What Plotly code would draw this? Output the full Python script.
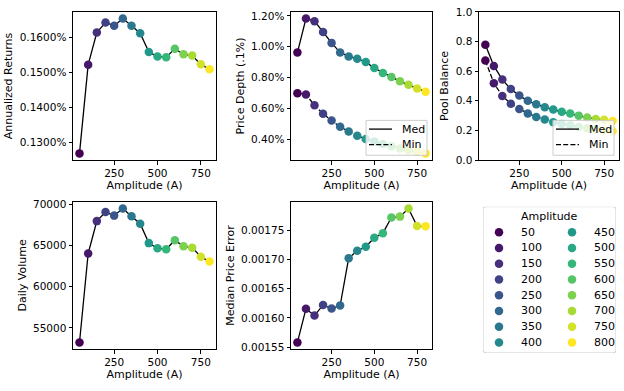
import plotly.graph_objects as go
from plotly.colors import sample_colorscale

# ---------------- data ----------------
amplitude = [50, 100, 150, 200, 250, 300, 350, 400, 450, 500, 550, 600, 650, 700, 750, 800]
annualized_returns = [0.0012684, 0.0015213, 0.0016130, 0.0016418, 0.0016325, 0.0016529, 0.0016325, 0.0016111,
                      0.0015576, 0.0015446, 0.0015427, 0.0015669, 0.0015511, 0.0015474, 0.0015223, 0.0015084]
depth_med = [0.00962, 0.01183, 0.01166, 0.01095, 0.01025, 0.00962, 0.00937, 0.00922,
             0.00901, 0.00861, 0.00830, 0.00804, 0.00775, 0.00753, 0.00728, 0.00707]
depth_min = [0.00698, 0.00690, 0.00619, 0.00564, 0.00520, 0.00480, 0.00449, 0.00421,
             0.00400, 0.00385, 0.00368, 0.00353, 0.00339, 0.00328, 0.00317, 0.00307]
pool_med = [0.778, 0.635, 0.543, 0.479, 0.435, 0.400, 0.376, 0.356,
            0.341, 0.326, 0.315, 0.300, 0.287, 0.278, 0.272, 0.263]
pool_min = [0.671, 0.519, 0.433, 0.380, 0.344, 0.315, 0.291, 0.274,
            0.256, 0.244, 0.235, 0.224, 0.215, 0.209, 0.200, 0.196]
daily_volume = [53228, 64055, 67992, 69094, 68661, 69528, 68583, 67677,
                65315, 64685, 64567, 65669, 64921, 64764, 63661, 63071]
price_error = [0.0015580, 0.0016156, 0.0016039, 0.0016222, 0.0016161, 0.0016211, 0.0017022, 0.0017150,
               0.0017217, 0.0017372, 0.0017450, 0.0017717, 0.0017733, 0.0017872, 0.0017572, 0.0017567]
series_names = ["Med", "Min"]
x_ticks = [250, 500, 750]

# ---------------- layout helpers ----------------
W, H = 624, 391
FONT = "DejaVu Sans"
def fx(p): return p / W
def fy(p): return 1 - p / H

cols = [(73, 216), (291, 432), (479, 619)]
rows = [(6, 159), (202, 354)]

def pad(vals_list, lo=None, hi=None):
    v = [x for vals in vals_list for x in vals]
    a, b = min(v), max(v)
    s = b - a
    return [a - 0.05 * s if lo is None else lo, b + 0.05 * s if hi is None else hi]

cmin, cmax = min(amplitude), max(amplitude)
marker = dict(color=amplitude, colorscale="Viridis", cmin=cmin, cmax=cmax, size=8.5, line=dict(width=0))
LW = 1.3
DASH = "5px,2.2px"

fig = go.Figure()

def add_series(xa, ya, y, dash="solid"):
    fig.add_trace(go.Scatter(x=amplitude, y=y, mode="lines+markers", xaxis=xa, yaxis=ya,
                             line=dict(color="black", width=LW, dash=dash), marker=marker,
                             showlegend=False, hoverinfo="skip"))

add_series("x", "y", annualized_returns)
add_series("x2", "y2", depth_med)
add_series("x2", "y2", depth_min, dash=DASH)
add_series("x3", "y3", pool_med)
add_series("x3", "y3", pool_min, dash=DASH)
add_series("x4", "y4", daily_volume)
add_series("x5", "y5", price_error)

xr = pad([amplitude])
axis_common = dict(showline=True, linecolor="black", linewidth=1, mirror=True, ticks="outside",
                   ticklen=3.5, tickwidth=1, tickcolor="black", showgrid=False, zeroline=False,
                   tickfont=dict(family=FONT, size=10.5, color="black"))

def xaxis(col, row, anchor):
    d = dict(axis_common, domain=[fx(cols[col][0]), fx(cols[col][1])], anchor=anchor,
             range=xr, tickvals=x_ticks)
    d["title"] = dict(text="Amplitude (A)", standoff=3, font=dict(family=FONT, size=11, color="black"))
    return d

def yaxis(row, anchor, title, rng, **kw):
    d = dict(axis_common, domain=[fy(rows[row][1]), fy(rows[row][0])], anchor=anchor, range=rng,
             title=dict(text=title, standoff=4, font=dict(family=FONT, size=11, color="black")))
    d.update(kw)
    return d

# hidden axis for the colour legend panel
LX0, LX1, LY0, LY1 = 483, 616, 207, 358
lw_, lh_ = LX1 - LX0, LY1 - LY0

fig.update_layout(
    width=W, height=H, margin=dict(l=0, r=0, t=0, b=0),
    paper_bgcolor="white", plot_bgcolor="white", showlegend=False,
    font=dict(family=FONT, size=11, color="black"),
    xaxis=xaxis(0, 0, "y"),
    yaxis=yaxis(0, "x", "Annualized Returns", pad([annualized_returns]), tickformat=".4%", dtick=0.0001, tick0=0),
    xaxis2=xaxis(1, 0, "y2"),
    yaxis2=yaxis(0, "x2", "Price Depth (.1%)", pad([depth_med, depth_min]), tickformat=".2%", dtick=0.002, tick0=0),
    xaxis3=xaxis(2, 0, "y3"),
    yaxis3=yaxis(0, "x3", "Pool Balance", [0, 1], tickformat=".1f", dtick=0.2, tick0=0),
    xaxis4=xaxis(0, 1, "y4"),
    yaxis4=yaxis(1, "x4", "Daily Volume", pad([daily_volume]), tickformat="d", dtick=5000, tick0=0),
    xaxis5=xaxis(1, 1, "y5"),
    yaxis5=yaxis(1, "x5", "Median Price Error", pad([price_error]), tickformat=".5f", dtick=0.00005, tick0=0),
    xaxis6=dict(domain=[fx(LX0), fx(LX1)], range=[0, lw_], visible=False, anchor="y6", fixedrange=True),
    yaxis6=dict(domain=[fy(LY1), fy(LY0)], range=[lh_, 0], visible=False, anchor="x6", fixedrange=True),
)

def rounded_path(x0, y0, x1, y1, r):
    return (f"M {x0 + r},{y0} L {x1 - r},{y0} Q {x1},{y0} {x1},{y0 + r} L {x1},{y1 - r} Q {x1},{y1} {x1 - r},{y1} "
            f"L {x0 + r},{y1} Q {x0},{y1} {x0},{y1 - r} L {x0},{y0 + r} Q {x0},{y0} {x0 + r},{y0} Z")

# Med / Min legend boxes (lower right of panels 2 and 3), in paper pixels
def line_legend(col, row):
    ax_r, ax_b = cols[col][1], rows[row][1]
    bx1, by1 = ax_r - 5, ax_b - 5
    bx0, by0 = bx1 - 61, by1 - 36
    fig.add_shape(type="path", path=rounded_path(fx(bx0), fy(by0), fx(bx1), fy(by1), 0), xref="paper", yref="paper",
                  line=dict(color="#cccccc", width=1), fillcolor="rgba(255,255,255,0.8)", layer="above")
    for k, (name, dash) in enumerate(zip(series_names, ["solid", DASH])):
        yy = by0 + 9 + k * 16
        fig.add_shape(type="line", xref="paper", yref="paper", x0=fx(bx0 + 3), x1=fx(bx0 + 26),
                      y0=fy(yy), y1=fy(yy), line=dict(color="black", width=LW, dash=dash), layer="above")
        fig.add_annotation(x=fx(bx0 + 34), y=fy(yy), xref="paper", yref="paper", text=name, showarrow=False,
                           font=dict(family=FONT, size=11, color="black"), xanchor="left", yanchor="middle")

line_legend(1, 0)
line_legend(2, 0)

# colour legend panel (Amplitude)
fig.add_shape(type="path", path=rounded_path(0, 0, lw_, lh_, 3), xref="x6", yref="y6",
              line=dict(color="#cccccc", width=1), fillcolor="white", layer="below")
fig.add_annotation(x=lw_ / 2, y=10, xref="x6", yref="y6", text="Amplitude", showarrow=False,
                   font=dict(family=FONT, size=11, color="black"), xanchor="center", yanchor="middle")

n_per_col = 8
colors = sample_colorscale("Viridis", [(a - cmin) / (cmax - cmin) for a in amplitude])
mx, my = [], []
for i, a in enumerate(amplitude):
    c, rr = divmod(i, n_per_col)
    x0 = 16 + c * 73
    y0 = 26.3 + rr * 16.25
    mx.append(x0)
    my.append(y0)
    fig.add_annotation(x=x0 + 20, y=y0, xref="x6", yref="y6", text=str(a), showarrow=False,
                       font=dict(family=FONT, size=11, color="black"), xanchor="left", yanchor="middle")
fig.add_trace(go.Scatter(x=mx, y=my, mode="markers", xaxis="x6", yaxis="y6", showlegend=False,
                         marker=dict(color=colors, size=8.5, line=dict(width=0)), hoverinfo="skip"))

fig.write_html("out.html", config={"displayModeBar": False},
               post_script="document.body.style.margin='0';")
